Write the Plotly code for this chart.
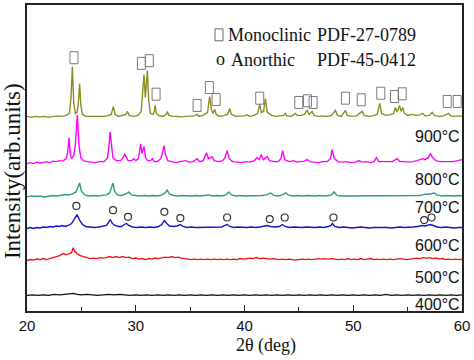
import plotly.graph_objects as go

# ---------------- data (2theta in deg, intensity in arb. units relative to each pattern's baseline) -------------
temps = ["900°C", "800°C", "700°C", "600°C", "500°C", "400°C"]
colors = ["#8C8C26", "#FF00FF", "#2E9A88", "#1414C8", "#EE1414", "#111111"]
offsets = [194.7, 148.2, 114.7, 83.0, 50.7, 15.7]

pat_900 = [(20.0,1),(20.4,0),(20.8,1),(21.2,0.5),(21.6,1),(22.0,0),(22.4,1),(22.8,1.5),(23.2,1),(23.6,2),(23.9,4),(24.05,20),(24.17,51),(24.3,14),(24.45,4),(24.6,5),(24.72,14),(24.84,34),(24.95,12),(25.1,3),(25.4,1),(25.8,1),(26.2,0.5),(26.6,1),(27.0,1),(27.4,1.5),(27.75,3),(27.94,11),(28.1,3),(28.4,1),(28.8,2),(29.1,3),(29.24,6),(29.4,2),(29.8,1),(30.2,2),(30.5,6),(30.65,25),(30.76,43),(30.88,20),(30.97,30),(31.07,47),(31.2,16),(31.35,4),(31.6,3),(31.7,6),(31.78,12),(31.9,4),(32.1,2),(32.5,1),(32.8,3),(32.91,6),(33.05,2),(33.4,1),(33.8,1),(34.2,0.5),(34.6,1),(35.0,1),(35.4,1.5),(35.64,3),(35.8,1),(36.2,2),(36.6,5),(36.8,21),(36.95,8),(37.1,4),(37.26,8),(37.4,3),(37.7,1),(38.1,2),(38.45,3),(38.64,9),(38.8,3),(39.2,1),(39.6,1),(40.0,1.5),(40.2,2.5),(40.5,1),(40.9,2),(41.2,4),(41.4,13),(41.55,5),(41.75,6),(41.92,19),(42.1,5),(42.5,2),(42.9,1),(43.3,1.5),(43.6,2),(43.76,4),(43.9,1.5),(44.3,1),(44.68,4),(44.85,2),(45.2,2),(45.5,3),(45.76,7),(45.95,3),(46.22,6),(46.4,2),(46.8,1),(47.2,1.5),(47.6,1),(48.0,2),(48.36,7),(48.55,2),(48.9,1),(49.28,7),(49.45,2),(49.9,1),(50.3,1.5),(50.82,6),(51.0,2),(51.4,1),(51.8,1.5),(52.2,3),(52.44,14),(52.6,4),(53.0,2),(53.4,2.5),(53.7,4),(53.88,10),(54.0,6),(54.1,7),(54.25,12),(54.4,6),(54.55,10),(54.7,4),(55.0,2),(55.4,3),(55.8,2),(56.1,2.5),(56.39,4),(56.6,1.5),(57.0,2),(57.26,5),(57.45,2),(57.9,1),(58.3,1.5),(58.76,4),(58.95,1.5),(59.3,1),(59.7,1.5),(60.0,1)]

pat_800 = [(20.0,0),(20.3,1),(20.6,0),(20.9,1.5),(21.2,0.5),(21.5,1),(21.8,2),(22.1,1),(22.4,2.5),(22.7,2),(23.0,3),(23.3,2.5),(23.6,5),(23.75,12),(23.86,26),(23.97,10),(24.1,5),(24.3,8),(24.45,20),(24.63,49),(24.78,18),(24.95,6),(25.2,3),(25.5,2),(25.9,1.5),(26.3,1),(26.7,2),(27.1,2),(27.4,6),(27.55,18),(27.64,32),(27.75,20),(27.9,6),(28.2,3),(28.6,3),(28.85,6),(28.98,10),(29.1,7),(29.3,3),(29.6,3),(29.84,5),(30.0,3),(30.25,5),(30.45,20),(30.58,10),(30.76,17),(30.9,6),(31.1,3),(31.35,3),(31.53,5),(31.7,2),(32.0,2),(32.3,5),(32.48,12),(32.6,18),(32.75,8),(32.95,3),(33.3,2),(33.7,1),(34.1,2),(34.56,3),(34.9,1.5),(35.3,2),(35.64,5),(35.9,2),(36.2,3),(36.5,11),(36.7,5),(37.02,7),(37.2,3),(37.6,2),(38.0,3),(38.2,6),(38.4,13),(38.6,5),(38.9,2),(39.3,1.5),(39.7,1),(40.1,2),(40.5,1.5),(40.9,3),(41.16,6),(41.35,4),(41.53,9),(41.75,4),(42.08,7),(42.3,3),(42.7,2),(43.1,2),(43.35,5),(43.51,13),(43.7,4),(44.1,2),(44.53,3),(44.8,1.5),(45.2,2),(45.5,2.5),(45.76,4),(46.0,2),(46.4,1.5),(46.8,1),(47.2,2),(47.6,2),(47.9,5),(48.06,14),(48.25,5),(48.6,2),(49.0,1.5),(49.4,2),(49.8,1),(50.2,1.5),(50.51,3),(50.8,1.5),(51.2,2),(51.6,1),(51.9,2),(52.13,6),(52.35,2),(52.8,2),(53.2,1.5),(53.6,2),(54.04,5),(54.3,2),(54.7,2),(55.1,1.5),(55.5,2),(55.9,3),(56.34,5),(56.6,4),(56.9,6),(57.1,10),(57.3,6),(57.6,3),(58.0,2),(58.4,2),(58.8,1.5),(59.2,2),(59.6,3),(60.0,4)]

pat_700 = [(20.0,0),(20.4,1),(20.8,0.5),(21.2,1),(21.6,0),(22.0,1),(22.4,1.5),(22.8,1),(23.2,2),(23.5,2.5),(23.8,2),(24.2,3),(24.5,5),(24.7,10),(24.84,14),(25.0,6),(25.3,2),(25.7,1),(26.1,1.5),(26.5,1),(26.9,1.5),(27.3,2),(27.6,4),(27.78,9),(27.91,14),(28.05,6),(28.3,2),(28.7,1.5),(29.1,3),(29.35,5),(29.6,2),(30.0,1.5),(30.4,1),(30.8,1.5),(31.2,1),(31.6,1.5),(32.0,1),(32.4,2),(32.7,4),(32.88,7),(33.1,3),(33.5,1.5),(33.9,1),(34.3,1.5),(34.7,1),(35.1,1),(35.5,1.5),(35.9,1),(36.3,1.5),(36.7,2),(37.1,1),(37.5,1.5),(37.9,1),(38.3,2),(38.55,5),(38.8,2),(39.2,1),(39.6,1.5),(40.0,1),(40.4,1),(40.8,1.5),(41.2,1),(41.6,1.5),(42.0,2),(42.41,4),(42.7,1.5),(43.1,1),(43.5,2),(43.79,4),(44.1,1.5),(44.5,1),(44.9,1.5),(45.3,1),(45.7,1.5),(46.1,1),(46.5,1),(46.9,1.5),(47.3,1),(47.7,1.5),(48.0,2),(48.24,5),(48.5,1.5),(48.9,1),(49.3,1),(49.7,1.5),(50.1,1),(50.5,1),(50.9,1.5),(51.3,1),(51.7,1),(52.1,1.5),(52.5,1),(52.9,1),(53.3,1.5),(53.7,1),(54.1,1.5),(54.5,1),(54.9,1),(55.3,1.5),(55.7,1),(56.1,1.5),(56.4,2),(56.67,3),(56.9,2.5),(57.2,3),(57.44,4),(57.7,2),(58.1,1),(58.5,1.5),(58.9,1),(59.3,1),(59.7,1.5),(60.0,1)]

pat_600 = [(20.0,0),(20.3,1),(20.6,0),(20.9,1),(21.2,0.5),(21.5,1.5),(21.8,1),(22.1,2),(22.4,1.5),(22.7,2.5),(23.0,2),(23.22,3),(23.5,2),(23.8,3),(24.1,5),(24.35,10),(24.6,14),(24.85,8),(25.1,4),(25.4,2),(25.8,1.5),(26.2,1),(26.6,1.5),(27.0,2),(27.3,3),(27.5,6),(27.66,9),(27.85,5),(28.1,3),(28.4,2),(28.7,2),(28.95,4),(29.14,5),(29.35,3),(29.7,1.5),(30.1,1),(30.5,1.5),(30.9,1),(31.3,1.5),(31.7,1),(32.1,2),(32.4,4),(32.63,8),(32.85,5),(33.1,2.5),(33.5,2),(33.8,2.5),(34.1,4),(34.35,2),(34.7,1),(35.1,1.5),(35.5,1),(35.9,1),(36.3,1.5),(36.7,1),(37.1,1.5),(37.5,1),(37.9,1.5),(38.2,3),(38.4,4),(38.65,2),(39.0,1),(39.4,1.5),(39.8,1),(40.2,1),(40.6,1.5),(41.0,1),(41.4,1.5),(41.8,2),(42.1,3),(42.4,2),(42.8,1.5),(43.2,2),(43.49,4),(43.75,2),(44.1,1),(44.5,1.5),(44.9,1),(45.3,1),(45.7,1.5),(46.1,1),(46.5,1),(46.9,1.5),(47.3,1),(47.7,2),(47.95,3),(48.09,5),(48.3,2),(48.7,1),(49.1,1.5),(49.5,1),(49.9,0.5),(50.3,1),(50.7,1.5),(51.1,1),(51.5,0.5),(51.9,1),(52.3,1),(52.7,1.5),(53.1,1),(53.5,0.5),(53.9,1),(54.3,1.5),(54.7,1),(55.1,1),(55.5,1.5),(55.9,2),(56.34,3),(56.6,2.5),(56.85,3),(57.1,4),(57.35,3),(57.7,1.5),(58.1,1),(58.5,1.5),(58.9,1),(59.3,0.5),(59.7,1),(60.0,1)]

pat_500 = [(20.0,0),(20.3,1),(20.6,0.5),(20.9,1.5),(21.2,1),(21.5,2),(21.8,1),(22.1,2),(22.4,2.5),(22.7,4),(23.0,5),(23.3,7),(23.6,6),(23.9,7),(24.1,8),(24.25,13),(24.4,9),(24.6,7),(24.9,5),(25.2,4),(25.5,3),(25.8,2),(26.1,2.5),(26.4,2),(26.7,3),(27.0,2.5),(27.3,3),(27.6,4),(27.9,3),(28.2,4),(28.5,3),(28.8,4),(29.1,3),(29.4,3.5),(29.7,2),(30.0,2.5),(30.3,1.5),(30.6,2),(30.9,1),(31.2,2),(31.5,1.5),(31.8,2.5),(32.1,2),(32.4,3),(32.7,3.5),(33.0,3),(33.3,4),(33.6,3),(33.9,3.5),(34.2,2.5),(34.5,2),(34.8,1.5),(35.1,1),(35.4,1.5),(35.7,1),(36.0,1.5),(36.3,1),(36.6,1.5),(36.9,1),(37.2,1.5),(37.5,1),(37.8,1.5),(38.1,1),(38.4,1.5),(38.7,1),(39.0,1.5),(39.3,1),(39.6,2),(39.9,1.5),(40.2,2),(40.5,2.5),(40.8,2),(41.1,3),(41.4,2),(41.7,2.5),(42.0,2),(42.3,1.5),(42.6,2),(42.9,1.5),(43.2,1),(43.5,1.5),(43.8,1),(44.1,1.5),(44.4,1),(44.7,0.5),(45.0,1),(45.3,1.5),(45.6,1),(45.9,1.5),(46.2,1),(46.5,1.5),(46.8,2),(47.1,1.5),(47.4,2),(47.7,1.5),(48.0,2),(48.3,1.5),(48.6,1),(48.9,1.5),(49.2,1),(49.5,2),(49.8,1),(50.1,1.5),(50.4,1),(50.7,2),(51.0,1),(51.3,1.5),(51.6,2),(51.9,1),(52.2,1.5),(52.5,1),(52.8,1.5),(53.1,1),(53.4,1.5),(53.7,1),(54.0,1.5),(54.3,2),(54.6,1.5),(54.9,1),(55.2,1.5),(55.5,2),(55.8,2.5),(56.1,2),(56.4,3),(56.7,2.5),(57.0,3),(57.3,2),(57.6,2.5),(57.9,1.5),(58.2,2),(58.5,1),(58.8,1.5),(59.1,1),(59.4,1.5),(59.7,1),(60.0,1.5)]

pat_400 = [(20.0,0),(20.5,0.5),(21.0,0),(21.5,0.5),(22.0,0),(22.5,1),(23.0,0.5),(23.5,1),(24.0,1),(24.3,2),(24.6,1),(25.0,0.5),(25.5,1),(26.0,0.5),(26.5,0),(27.0,0.5),(27.5,1),(28.0,0.5),(28.5,1),(29.0,0.5),(29.5,0),(30.0,0.5),(30.5,0),(31.0,0.5),(31.5,0),(32.0,0.5),(32.5,0),(33.0,0.5),(33.5,0),(34.0,0.5),(34.5,0),(35.0,0.5),(35.5,0),(36.0,0.5),(36.5,0),(37.0,0.5),(37.5,0),(38.0,0.5),(38.5,0),(39.0,0.5),(39.5,0),(40.0,0.5),(40.5,0),(41.0,0.5),(41.5,0),(42.0,0.5),(42.5,0),(43.0,0.5),(43.5,0),(44.0,0.5),(44.5,0),(45.0,0.5),(45.5,0),(46.0,0.5),(46.5,0),(47.0,0.5),(47.5,0),(48.0,0.5),(48.5,0),(49.0,0.5),(49.5,0),(50.0,0.5),(50.5,0),(51.0,0.5),(51.5,0),(52.0,0.5),(52.5,0),(53.0,1),(53.5,0),(54.0,0.5),(54.5,0),(55.0,0.5),(55.5,0),(56.0,0.5),(56.5,0),(57.0,0.5),(57.5,0),(58.0,0.5),(58.5,0),(59.0,0.5),(59.5,0),(60.0,0.5)]

patterns = [pat_900, pat_800, pat_700, pat_600, pat_500, pat_400]

# Monoclinic reflections marked on the 900°C pattern (2theta, height above its baseline)
mono_2theta = [24.32, 30.52, 31.25, 31.87, 35.64, 36.77, 37.39, 41.40, 44.99, 45.79, 46.31, 49.28, 50.73, 52.53, 53.79, 54.50, 58.64, 59.56]
mono_height = [60, 54.3, 57, 23.3, 12, 30, 18, 19.3, 15, 16.7, 15, 19.3, 17.7, 24.3, 21, 23.7, 16, 16]

# Anorthic reflections marked on the 600°C pattern
anor_2theta = [24.54, 27.91, 29.29, 32.63, 34.10, 38.40, 42.32, 43.70, 48.18, 56.52, 57.20]
anor_height = [22.7, 18.4, 11.7, 16.7, 10.4, 11, 9.4, 11, 11, 8.4, 11]

# label heights (relative to the axis bottom) for the temperature tags
label_y = [175.7, 132.7, 103.7, 65.7, 33.7, 6.7]

# ---------------- figure ----------------
fig = go.Figure()
for pts, off, col, name in zip(patterns, offsets, colors, temps):
    fig.add_trace(go.Scatter(
        x=[p[0] for p in pts], y=[p[1] + off for p in pts],
        mode="lines", line=dict(color=col, width=1.4), name=name,
        showlegend=False, hoverinfo="skip"))

fig.add_trace(go.Scatter(
    x=anor_2theta, y=[h + offsets[3] for h in anor_height], mode="markers",
    marker=dict(symbol="circle-open", size=7, color="#333333", line=dict(width=1.2)),
    showlegend=False, hoverinfo="skip"))

# tall open boxes for the monoclinic reflections (anchored at data coords, sized in pixels)
shapes = []
for tt, hh in zip(mono_2theta, mono_height):
    shapes.append(dict(type="rect", xref="x", yref="y", xsizemode="pixel", ysizemode="pixel",
                       xanchor=tt, yanchor=hh + offsets[0], x0=-4, x1=4, y0=-6, y1=6,
                       line=dict(color="#7A7A7A", width=1), fillcolor="rgba(0,0,0,0)"))

L, R, T, B = 27, 462, 3, 310.7
W, H = 474, 360


def px(xp):
    return (xp - L) / (R - L)


def py(yp):
    return (B - yp) / (B - T)


# legend box glyph
shapes.append(dict(type="rect", xref="paper", yref="paper",
                   x0=px(215), x1=px(223), y0=py(39), y1=py(27),
                   line=dict(color="#666666", width=1), fillcolor="rgba(0,0,0,0)"))

ann = []
for t, ly in zip(temps, label_y):
    ann.append(dict(x=1.0, xref="paper", y=ly, yref="y", text=t, showarrow=False,
                    xanchor="right", yanchor="middle",
                    font=dict(family="Liberation Sans", size=16, color="#111111")))

serif = dict(family="Liberation Serif", size=18, color="#111111")
ann += [
    dict(x=px(226), y=py(33), xref="paper", yref="paper", text="Monoclinic", showarrow=False,
         xanchor="left", yanchor="middle", font=serif),
    dict(x=px(315), y=py(33), xref="paper", yref="paper", text="PDF-27-0789", showarrow=False,
         xanchor="left", yanchor="middle", font=serif),
    dict(x=px(220), y=py(57), xref="paper", yref="paper", text="o", showarrow=False,
         xanchor="center", yanchor="middle", font=serif),
    dict(x=px(229), y=py(58), xref="paper", yref="paper", text="Anorthic", showarrow=False,
         xanchor="left", yanchor="middle", font=serif),
    dict(x=px(315), y=py(58), xref="paper", yref="paper", text="PDF-45-0412", showarrow=False,
         xanchor="left", yanchor="middle", font=serif),
    dict(x=px(266), y=py(345), xref="paper", yref="paper", text="2θ (deg)", showarrow=False,
         xanchor="center", yanchor="middle", font=dict(family="Liberation Serif", size=18, color="#111111")),
    dict(x=px(12), y=py(170), xref="paper", yref="paper", text="Intensity(arb.units)", showarrow=False,
         textangle=-90, xanchor="center", yanchor="middle",
         font=dict(family="Liberation Serif", size=23, color="#111111")),
]

fig.update_layout(
    width=W, height=H,
    margin=dict(l=L, r=W - R, t=T, b=H - B),
    paper_bgcolor="white", plot_bgcolor="white",
    annotations=ann, shapes=shapes,
    xaxis=dict(range=[20, 60], dtick=10, tick0=20, ticks="inside", ticklen=6, tickwidth=1.2,
               tickcolor="#222222", showgrid=False, zeroline=False,
               showline=True, mirror=True, linecolor="#222222", linewidth=1.5,
               tickfont=dict(family="Liberation Sans", size=15, color="#111111"),
               minor=dict(dtick=5, tick0=20, ticks="inside", ticklen=4, tickwidth=1.2, tickcolor="#222222", showgrid=False)),
    yaxis=dict(range=[0, B - T], showticklabels=False, ticks="", showgrid=False, zeroline=False,
               showline=True, mirror=True, linecolor="#222222", linewidth=1.5),
)

fig.write_html("out.html", config={"displayModeBar": False},
               post_script="document.body.style.margin='0px';")
